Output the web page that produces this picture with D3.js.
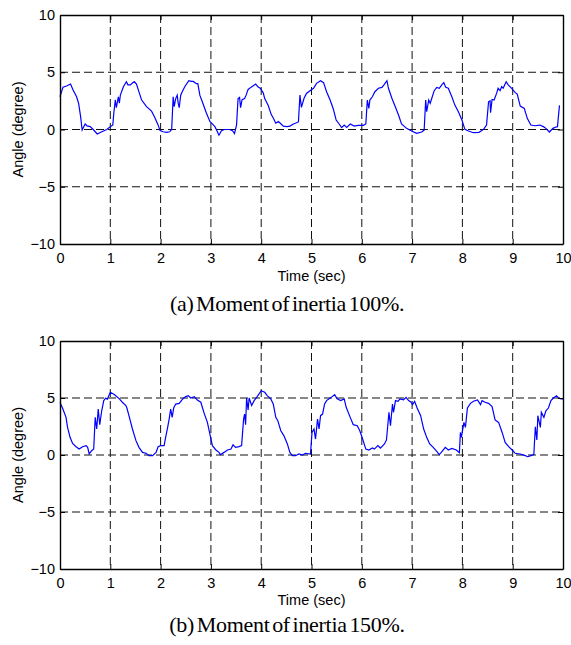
<!DOCTYPE html>
<html><head><meta charset="utf-8">
<script src="https://cdn.jsdelivr.net/npm/d3@7"></script>
<style>body{margin:0;background:#fff}svg{display:block}</style>
</head><body>
<svg id="c" width="571" height="645"></svg>
<script>
const xTicks = [0,1,2,3,4,5,6,7,8,9,10];
const yTicks = [-10,-5,0,5,10];
const xLabel = "Time (sec)";
const yLabel = "Angle (degree)";
const captions = ["(a) Moment of inertia 100%.", "(b) Moment of inertia 150%."];

// (a) Moment of inertia 100%
const tA = [0.0,0.06,0.13,0.21,0.26,0.33,0.37,0.41,0.44,0.50,0.54,0.60,0.66,0.74,0.83,0.93,1.0,1.05,1.07,1.1,1.12,1.16,1.18,1.2,1.26,1.32,1.35,1.4,1.45,1.48,1.52,1.58,1.62,1.72,1.82,1.88,1.95,1.99,2.05,2.12,2.18,2.22,2.25,2.27,2.3,2.33,2.35,2.37,2.4,2.43,2.48,2.56,2.61,2.65,2.71,2.74,2.78,2.84,2.91,2.98,3.08,3.12,3.16,3.21,3.27,3.37,3.43,3.47,3.51,3.54,3.57,3.59,3.62,3.67,3.7,3.74,3.8,3.89,3.94,3.98,4.04,4.07,4.14,4.2,4.24,4.29,4.34,4.38,4.44,4.51,4.57,4.64,4.74,4.77,4.8,4.85,4.9,4.97,5.04,5.1,5.18,5.24,5.3,5.37,5.43,5.49,5.55,5.6,5.65,5.7,5.77,5.85,5.93,6.03,6.08,6.11,6.14,6.16,6.21,6.26,6.33,6.4,6.44,6.5,6.53,6.6,6.66,6.73,6.79,6.89,6.99,7.09,7.19,7.24,7.27,7.29,7.33,7.36,7.39,7.44,7.49,7.54,7.59,7.63,7.67,7.72,7.79,7.85,7.92,7.99,8.05,8.12,8.22,8.33,8.42,8.48,8.52,8.55,8.56,8.59,8.63,8.68,8.71,8.75,8.78,8.81,8.87,8.91,8.98,9.05,9.09,9.15,9.23,9.29,9.36,9.44,9.54,9.61,9.66,9.73,9.8,9.86,9.89,9.93];
const vA = [2.86,3.7,3.8,3.97,3.45,2.86,2.28,1.12,-0.04,0.48,0.31,0.25,0.0,-0.39,-0.2,0.0,0.25,0.4,1.44,2.6,1.9,2.86,2.3,3.0,3.74,4.17,3.9,3.9,4.1,4.17,3.97,3.16,2.6,2.0,1.6,1.1,0.4,-0.1,-0.2,-0.25,-0.2,0.0,2.86,2.0,2.7,3.0,2.3,1.9,3.0,3.3,3.74,4.27,4.2,4.2,4.0,4.0,3.0,2.3,1.44,0.7,0.25,-0.1,-0.5,-0.1,0.0,0.0,-0.1,-0.35,0.4,2.7,2.8,1.9,2.6,2.7,3.0,3.5,3.7,3.97,3.7,3.6,3.2,2.7,2.1,1.3,1.0,0.55,0.7,0.55,0.3,0.25,0.3,0.48,0.66,3.0,1.93,2.7,3.15,3.39,3.6,4.03,4.26,4.09,3.3,2.57,1.84,0.83,0.48,0.16,0.39,0.19,0.48,0.3,0.36,0.36,0.48,2.57,1.84,2.57,2.86,3.3,3.6,3.68,3.9,4.26,3.6,2.71,2.05,1.26,0.48,0.1,-0.13,-0.34,-0.22,-0.05,2.57,1.55,2.57,2.28,2.71,3.39,3.68,3.6,3.9,4.09,3.68,3.6,2.86,2.13,1.55,0.83,0.01,-0.13,-0.28,-0.25,0.01,0.39,2.42,2.51,1.46,2.62,2.57,3.15,3.6,3.39,3.74,3.6,4.17,3.9,3.6,3.22,3.1,2.05,1.84,0.97,0.39,0.33,0.39,0.25,0.1,-0.22,0.1,0.22,0.25,2.11];

// (b) Moment of inertia 150%
const tB = [0.0,0.05,0.12,0.15,0.2,0.25,0.32,0.38,0.45,0.52,0.55,0.58,0.63,0.67,0.7,0.73,0.76,0.79,0.83,0.87,0.91,0.94,1.0,1.08,1.18,1.24,1.31,1.33,1.38,1.44,1.51,1.57,1.64,1.71,1.77,1.84,1.91,1.95,2.0,2.07,2.1,2.14,2.17,2.2,2.23,2.26,2.3,2.37,2.44,2.5,2.55,2.6,2.67,2.73,2.8,2.86,2.93,2.98,3.03,3.1,3.16,3.19,3.26,3.33,3.4,3.44,3.49,3.56,3.61,3.65,3.67,3.69,3.71,3.74,3.76,3.81,3.86,3.92,4.0,4.07,4.12,4.19,4.24,4.29,4.33,4.39,4.45,4.52,4.57,4.62,4.68,4.75,4.82,4.88,4.98,5.01,5.05,5.08,5.12,5.15,5.18,5.22,5.26,5.3,5.37,5.41,5.46,5.51,5.58,5.65,5.69,5.77,5.83,5.91,5.96,6.01,6.08,6.14,6.21,6.25,6.32,6.37,6.45,6.49,6.54,6.57,6.61,6.63,6.67,6.72,6.76,6.83,6.88,6.93,6.98,7.01,7.05,7.1,7.17,7.23,7.29,7.35,7.42,7.49,7.54,7.58,7.66,7.72,7.79,7.88,7.94,7.96,7.98,8.03,8.06,8.1,8.16,8.22,8.3,8.36,8.39,8.45,8.52,8.59,8.65,8.72,8.79,8.85,8.92,8.99,9.05,9.15,9.25,9.3,9.36,9.42,9.45,9.48,9.5,9.55,9.57,9.62,9.66,9.71,9.76,9.81,9.87,9.91,9.96,10.0];
const vB = [4.61,4.12,3.3,2.42,1.55,1.02,0.73,0.52,0.73,0.82,0.67,0.09,0.38,0.52,3.3,2.28,4.03,2.66,3.9,4.77,5.0,4.89,5.5,5.3,4.92,4.63,4.34,4.12,3.3,2.28,1.26,0.67,0.23,0.15,-0.06,-0.06,0.23,0.73,0.82,0.82,1.55,2.42,3.15,4.03,3.3,4.12,4.47,4.53,4.92,5.12,5.21,5.0,5.12,4.83,4.63,3.74,2.86,1.84,0.82,0.44,0.23,0.03,0.23,0.44,0.52,0.9,0.67,0.73,0.82,3.15,3.59,2.66,5.0,3.95,5.0,4.34,4.77,5.12,5.64,5.5,5.21,4.92,4.47,3.3,3.01,2.13,1.7,0.97,0.23,-0.06,-0.06,0.09,0.0,0.15,0.09,1.98,2.28,1.4,3.15,2.28,3.45,3.59,4.47,4.77,5.0,5.12,5.29,4.92,4.77,4.92,4.18,3.3,2.66,2.57,2.13,1.49,0.52,0.44,0.61,0.52,0.82,0.61,0.97,1.32,3.74,2.57,4.47,3.74,4.77,4.71,4.92,4.83,5.06,4.77,4.63,4.42,4.71,4.12,3.45,2.28,1.55,0.97,0.67,0.32,0.03,0.23,0.67,0.44,0.58,0.44,0.2,1.98,1.55,2.86,2.42,4.12,4.53,4.71,4.83,4.42,4.77,4.63,4.53,4.25,3.07,2.86,1.98,1.11,0.73,0.44,0.15,0.09,-0.06,-0.15,-0.06,0.03,2.48,1.32,3.45,2.42,3.74,3.3,3.88,4.12,4.77,5.0,5.2,5.0,4.92,4.92];

const svg = d3.select("#c");
const sans = "'Liberation Sans', Arial, Helvetica, sans-serif";
const serif = "'Liberation Serif', 'Times New Roman', serif";

function panel(top, bottom, ts, vs, caption, xLabY, capY) {
  const left = 60, right = 563;
  const x = d3.scaleLinear().domain([0,10]).range([left, right]);
  const y = d3.scaleLinear().domain([-10,10]).range([bottom, top]);
  const g = svg.append("g");

  // grid
  const grid = g.append("g").attr("stroke", "#111").attr("stroke-width", 1).attr("stroke-dasharray", "8,4");
  grid.selectAll(".gx").data(xTicks.slice(1, -1)).join("line")
    .attr("x1", d => x(d)).attr("x2", d => x(d)).attr("y1", top).attr("y2", bottom);
  grid.selectAll(".gy").data(yTicks.slice(1, -1)).join("line")
    .attr("x1", left).attr("x2", right).attr("y1", d => y(d)).attr("y2", d => y(d));

  // series
  const pts = ts.map((t, i) => [t, vs[i]]);
  g.append("path").datum(pts)
    .attr("fill", "none").attr("stroke", "#0000ff").attr("stroke-width", 1.2)
    .attr("d", d3.line().x(d => x(d[0])).y(d => y(d[1])));

  // axes
  const ax = (sel) => sel.call(s => s.select(".domain").attr("stroke", "#000").attr("stroke-width", 1.4))
                         .call(s => s.selectAll(".tick line").attr("stroke", "#000"))
                         .call(s => s.selectAll("text").attr("font-family", sans).attr("font-size", 14.5).attr("fill", "#000"));
  g.append("g").attr("transform", `translate(0,${bottom})`)
    .call(d3.axisBottom(x).tickValues(xTicks).tickSize(-5).tickPadding(9).tickSizeOuter(0).tickFormat(d3.format("d"))).call(ax);
  g.append("g").attr("transform", `translate(${left},0)`)
    .call(d3.axisLeft(y).tickValues(yTicks).tickSize(-5).tickPadding(5).tickSizeOuter(0).tickFormat(d3.format("d"))).call(ax);
  g.append("g").attr("transform", `translate(0,${top})`)
    .call(d3.axisTop(x).tickValues(xTicks).tickSize(-5).tickSizeOuter(0).tickFormat("")).call(ax);
  g.append("g").attr("transform", `translate(${right},0)`)
    .call(d3.axisRight(y).tickValues(yTicks).tickSize(-5).tickSizeOuter(0).tickFormat("")).call(ax);

  g.append("text").attr("x", (left + right) / 2).attr("y", xLabY).attr("text-anchor", "middle")
    .attr("font-family", sans).attr("font-size", 14.5).text(xLabel);
  g.append("text").attr("transform", `translate(23,${(top + bottom) / 2}) rotate(-90)`).attr("text-anchor", "middle")
    .attr("font-family", sans).attr("font-size", 14.5).text(yLabel);
  g.append("text").attr("x", 287).attr("y", capY).attr("text-anchor", "middle")
    .attr("font-family", serif).attr("font-size", 22).attr("word-spacing", -2.5).attr("letter-spacing", -0.3).text(caption);
}

panel(15, 244, tA, vA, captions[0], 281, 311);
panel(341, 569, tB, vB, captions[1], 605, 632);
</script>
</body></html>
